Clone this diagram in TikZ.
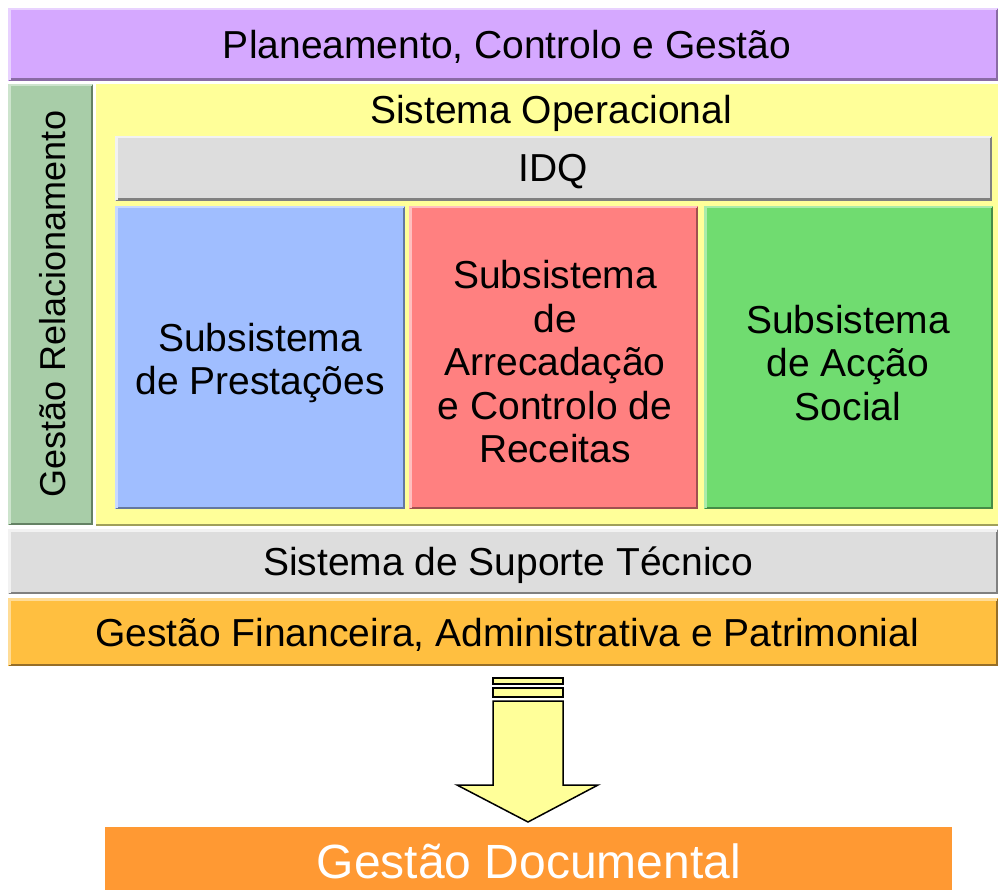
\documentclass[tikz,border=0pt]{standalone}
\usepackage{fontspec}
\setmainfont{Liberation Sans}
\definecolor{cpurple}{RGB}{213,168,255}
\definecolor{cpurpleD}{RGB}{138,107,165}
\definecolor{cpurpleL}{RGB}{232,210,255}
\definecolor{cside}{RGB}{168,205,168}
\definecolor{csideD}{RGB}{100,130,100}
\definecolor{csideL}{RGB}{205,228,205}
\definecolor{cyel}{RGB}{255,255,153}
\definecolor{cyelD}{RGB}{160,160,90}
\definecolor{cgrey}{RGB}{221,221,221}
\definecolor{cgreyD}{RGB}{128,128,128}
\definecolor{cgreyL}{RGB}{242,242,242}
\definecolor{cblue}{RGB}{160,190,255}
\definecolor{cblueD}{RGB}{100,120,160}
\definecolor{cblueL}{RGB}{200,218,255}
\definecolor{cred}{RGB}{255,128,128}
\definecolor{credD}{RGB}{160,80,80}
\definecolor{credL}{RGB}{255,190,190}
\definecolor{cgreen}{RGB}{112,220,112}
\definecolor{cgreenD}{RGB}{70,140,70}
\definecolor{cgreenL}{RGB}{170,235,170}
\definecolor{corange}{RGB}{255,191,64}
\definecolor{corangeD}{RGB}{150,110,40}
\definecolor{corangeL}{RGB}{255,220,150}
\definecolor{cdoc}{RGB}{255,153,51}
\begin{document}
\begin{tikzpicture}[x=1pt,y=-1pt,
  blk/.style={anchor=north west, inner sep=0pt, outer sep=0pt, draw=none},
  txt/.style={font=\fontsize{39}{43.5}\selectfont, align=center, inner sep=0pt},
  rim/.style={line width=2.5pt},
]
\useasboundingbox (0,0) rectangle (998,890);
% helper: bevel
\newcommand{\bevelbox}[4]{% name, fill, dark, light
  \draw[rim,#3] ([shift={(1.25,-1.25)}]#1.south west) -- ([shift={(-1.25,-1.25)}]#1.south east) -- ([shift={(-1.25,1.25)}]#1.north east);
  \draw[rim,#4] ([shift={(1.25,-1.25)}]#1.south west) -- ([shift={(1.25,1.25)}]#1.north west) -- ([shift={(-1.25,1.25)}]#1.north east);
}
% Planeamento
\node[blk, fill=cpurple, minimum width=990pt, minimum height=73pt] (plan) at (8,8) {};
\bevelbox{plan}{cpurple}{cpurpleD}{cpurpleL}
\node[txt] (plant) at (507,47) {Planeamento, Controlo e Gestão};
% side green
\node[blk, fill=cside, minimum width=85pt, minimum height=441pt] (side) at (8,84) {};
\bevelbox{side}{cside}{csideD}{csideL}
\node[txt, rotate=90, font=\fontsize{36}{40}\selectfont] (sidet) at (53,304) {Gestão Relacionamento};
% yellow
\node[blk, fill=cyel, minimum width=902pt, minimum height=442pt] (oper) at (96,84) {};
\draw[rim,cyelD] ([shift={(0,-1.25)}]oper.south west) -- ([shift={(0,-1.25)}]oper.south east);
\node[txt] (opert) at (551,113) {Sistema Operacional};
% IDQ
\node[blk, fill=cgrey, minimum width=877pt, minimum height=65pt] (idq) at (115,136) {};
\bevelbox{idq}{cgrey}{cgreyD}{cgreyL}
\node[txt] (idqt) at (553,172) {IDQ};
% subsystems
\node[blk, fill=cblue, minimum width=290pt, minimum height=303pt] (prest) at (115,206) {};
\bevelbox{prest}{cblue}{cblueD}{cblueL}
\node[txt] (prestt) at (260,363) {Subsistema\\de Prestações};
\node[blk, fill=cred, minimum width=289pt, minimum height=303pt] (arrec) at (409,206) {};
\bevelbox{arrec}{cred}{credD}{credL}
\node[txt] (arrect) at (555,362) {Subsistema\\de\\Arrecadação\\e Controlo de\\Receitas};
\node[blk, fill=cgreen, minimum width=289pt, minimum height=303pt] (accao) at (704,206) {};
\bevelbox{accao}{cgreen}{cgreenD}{cgreenL}
\node[txt] (accaot) at (848,363) {Subsistema\\de Acção\\Social};
% suporte
\node[blk, fill=cgrey, minimum width=990pt, minimum height=65pt] (sup) at (8,529) {};
\bevelbox{sup}{cgrey}{cgreyD}{cgreyL}
\node[txt] (supt) at (508,565) {Sistema de Suporte Técnico};
% financeira
\node[blk, fill=corange, minimum width=990pt, minimum height=68pt] (fin) at (8,598) {};
\bevelbox{fin}{corange}{corangeD}{corangeL}
\node[txt] (fint) at (507,635) {Gestão Financeira, Administrativa e Patrimonial};
% arrow
\draw[line width=1.5pt, fill=cyel] (493,678) rectangle (563,684);
\draw[line width=1.5pt, fill=cyel] (493,688) rectangle (563,697);
\draw[line width=1.5pt, fill=cyel, line join=miter] (493,701) -- (563,701) -- (563,785) -- (598,785) -- (528,822) -- (457,785) -- (493,785) -- cycle;
% documental
\node[blk, fill=cdoc, minimum width=847pt, minimum height=63pt] (doc) at (105,827) {};
\node[txt, text=white, font=\fontsize{48}{52}\selectfont] (doct) at (529,861) {Gestão Documental};
\end{tikzpicture}
\end{document}
